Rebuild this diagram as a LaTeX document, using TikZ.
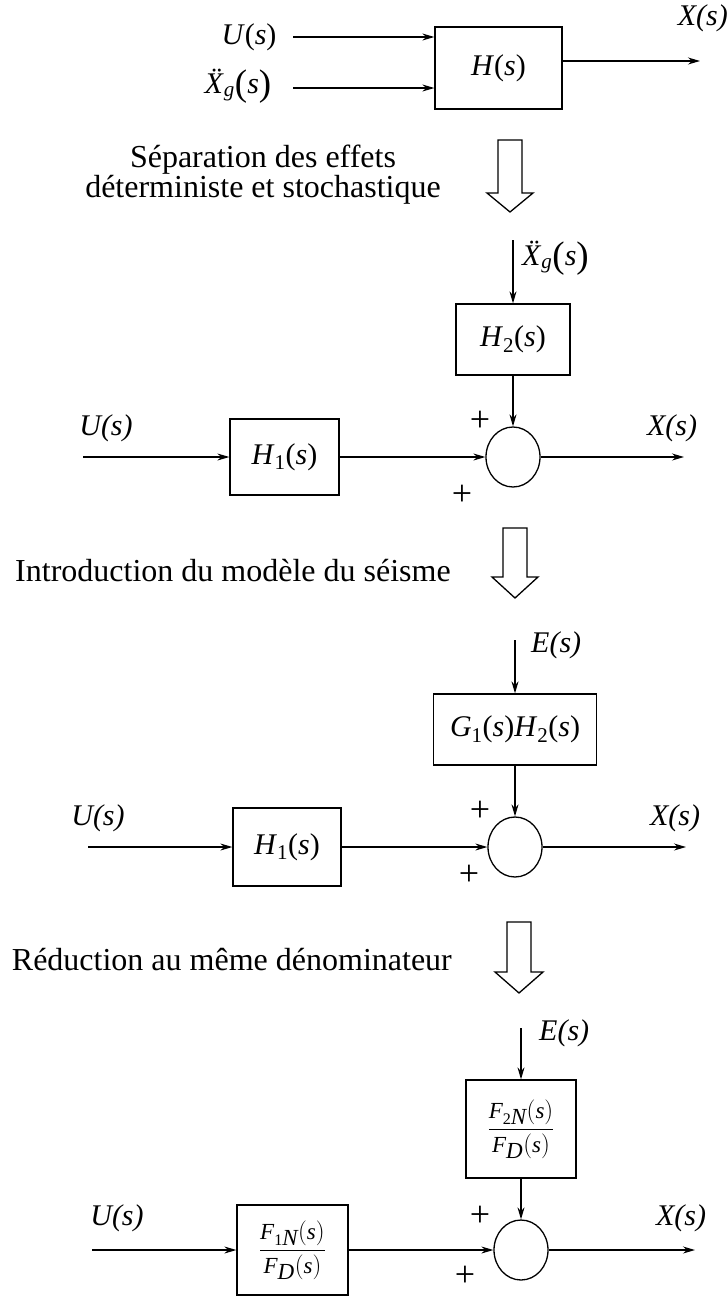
\documentclass[tikz,border=0pt]{standalone}
\usepackage{fontspec}
\setmainfont{Liberation Serif}
\usetikzlibrary{arrows.meta,shapes.geometric}
\newcommand\vi[1]{\textit{#1}}
\newcommand\bigparen[1]{\raisebox{-2.5pt}{\fontsize{37}{37}\selectfont #1}}
\newcommand\xgs{\vi{\"X}\textsubscript{\vi{g}}\bigparen{(}\vi{s}\bigparen{)}}
\begin{document}
\begin{tikzpicture}[x=1pt,y=-1pt,
  blk/.style={draw,line width=1.3pt,inner sep=0pt,font=\fontsize{30}{34}\selectfont},
  sumnode/.style={draw,ellipse,line width=1.3pt,minimum width=54pt,minimum height=60pt,inner sep=0pt},
  conn/.style={-{Stealth[length=12pt,width=7pt]},line width=1.2pt},
  lbl/.style={inner sep=0pt,font=\fontsize{30}{34}\selectfont},
  pm/.style={inner sep=0pt,font=\fontsize{36}{38}\selectfont},
  ttl/.style={inner sep=0pt,font=\fontsize{32}{27}\selectfont},
  frc/.style={draw,line width=1.3pt,inner sep=0pt,font=\fontsize{23}{27}\selectfont},
  hollow/.style={draw,line width=1.3pt,line join=miter}]
\useasboundingbox (0,0) rectangle (728,1296);

% ---------- Section 1 ----------
\node[blk,minimum width=127pt,minimum height=82pt] (H) at (498.5,68) {\vi{H}(\vi{s})};
\node[lbl] (U1) at (249,37) {\vi{U}(\vi{s})};
\node[lbl] (Xg1) at (238,86) {\xgs};
\coordinate (u1) at (293,37);
\coordinate (x1) at (293,88);
\draw[conn] (u1) -- (u1 -| H.west);
\draw[conn] (x1) -- (x1 -| H.west);
\coordinate (o1) at (700,61);
\draw[conn] (H.east |- o1) -- (o1);
\node[lbl,anchor=east] (X1) at (728,18) {\vi{X(s)}};

% hollow arrow 1
\draw[hollow] (498,140) -- (522,140) -- (522,193) -- (533,193) -- (510,212) -- (487,193) -- (498,193) -- cycle;
\node[ttl,align=center] (T1) at (263,175) {Séparation des effets\\déterministe et stochastique};

% ---------- Section 2 ----------
\node[blk,minimum width=114pt,minimum height=71pt] (H2a) at (513,339.5) {\vi{H}\textsubscript{2}(\vi{s})};
\coordinate (e2) at (513,240);
\draw[conn] (e2) -- (H2a.north);
\node[lbl,anchor=west] (Xg2) at (522,258) {\xgs};
\node[sumnode] (S2) at (513,457) {};
\draw[conn] (H2a.south) -- (S2.north);
\node[blk,minimum width=109pt,minimum height=76pt] (H1a) at (284.5,457) {\vi{H}\textsubscript{1}(\vi{s})};
\coordinate (u2) at (83,457);
\draw[conn] (u2) -- (H1a.west);
\draw[conn] (H1a.east) -- (S2.west);
\coordinate (o2) at (684,457);
\draw[conn] (S2.east) -- (o2);
\node[lbl] (U2) at (106,428) {\vi{U(s)}};
\node[lbl] (X2) at (672,428) {\vi{X(s)}};
\node[pm] (p2a) at (480,421) {+};
\node[pm] (p2b) at (462,495) {+};

% hollow arrow 2
\draw[hollow] (503,528) -- (527,528) -- (527,577) -- (538,577) -- (515,598) -- (492,577) -- (503,577) -- cycle;
\node[ttl,anchor=west] (T2) at (15,571) {Introduction du modèle du séisme};

% ---------- Section 3 ----------
\node[blk,minimum width=163pt,minimum height=71pt] (G3) at (515,729.5) {\vi{G}\textsubscript{1}(\vi{s})\vi{H}\textsubscript{2}(\vi{s})};
\coordinate (e3) at (515,640);
\draw[conn] (e3) -- (G3.north);
\node[lbl,anchor=west] (E3) at (531,645) {\vi{E(s)}};
\node[sumnode] (S3) at (515,847) {};
\draw[conn] (G3.south) -- (S3.north);
\node[blk,minimum width=108pt,minimum height=78pt] (H1b) at (287,847) {\vi{H}\textsubscript{1}(\vi{s})};
\coordinate (u3) at (88,847);
\draw[conn] (u3) -- (H1b.west);
\draw[conn] (H1b.east) -- (S3.west);
\coordinate (o3) at (686,847);
\draw[conn] (S3.east) -- (o3);
\node[lbl] (U3) at (98,818) {\vi{U(s)}};
\node[lbl] (X3) at (675,818) {\vi{X(s)}};
\node[pm] (p3a) at (480,811) {+};
\node[pm] (p3b) at (469,875) {+};

% hollow arrow 3
\draw[hollow] (507,922) -- (531,922) -- (531,972) -- (543,972) -- (519,993) -- (495,972) -- (507,972) -- cycle;
\node[ttl,anchor=east] (T3) at (452,960) {Réduction au même dénominateur};

% ---------- Section 4 ----------
\node[frc,minimum width=110pt,minimum height=98pt] (F2) at (521,1129) {$\displaystyle\frac{\vi{F}_{\mathrm{2}\vi{N}}(\vi{s})}{\vi{F}_{\vi{D}}(\vi{s})}$};
\coordinate (e4) at (521,1028);
\draw[conn] (e4) -- (F2.north);
\node[lbl,anchor=west] (E4) at (539,1033) {\vi{E(s)}};
\node[sumnode] (S4) at (521,1250) {};
\draw[conn] (F2.south) -- (S4.north);
\node[frc,minimum width=111pt,minimum height=90pt] (F1) at (292.5,1250) {$\displaystyle\frac{\vi{F}_{\mathrm{1}\vi{N}}(\vi{s})}{\vi{F}_{\vi{D}}(\vi{s})}$};
\coordinate (u4) at (92,1250);
\draw[conn] (u4) -- (F1.west);
\draw[conn] (F1.east) -- (S4.west);
\coordinate (o4) at (695,1250);
\draw[conn] (S4.east) -- (o4);
\node[lbl] (U4) at (117,1218) {\vi{U(s)}};
\node[lbl] (X4) at (681,1218) {\vi{X(s)}};
\node[pm] (p4a) at (480,1216) {+};
\node[pm] (p4b) at (465,1276) {+};
\end{tikzpicture}
\end{document}
